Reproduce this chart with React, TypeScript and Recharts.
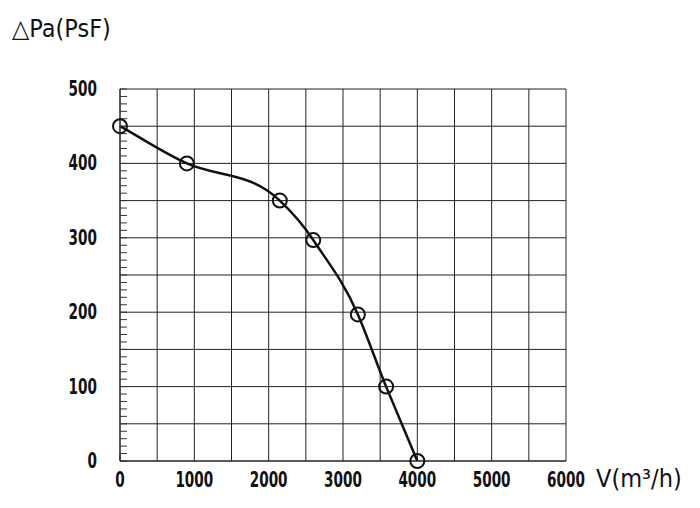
import { LineChart, Line, XAxis, YAxis, CartesianGrid } from 'recharts';

// fan curve: static pressure vs air flow
const flow = [0, 900, 2150, 2600, 3200, 3580, 4000];
const pressure = [450, 400, 350, 297, 197, 100, 0];

const xTicks = [0, 500, 1000, 1500, 2000, 2500, 3000, 3500, 4000, 4500, 5000, 5500, 6000];
const yTicks = [0, 50, 100, 150, 200, 250, 300, 350, 400, 450, 500];
const xMinorStep = 100;
const yMinorStep = 10;

const xMinor = Array.from({ length: 6000 / xMinorStep + 1 }, (_, i) => i * xMinorStep);
const yMinor = Array.from({ length: 500 / yMinorStep + 1 }, (_, i) => i * yMinorStep);

const data = flow.map((v, i) => ({ flow: v, pressure: pressure[i] }));

const FONT = '"DejaVu Sans Condensed", "DejaVu Sans", sans-serif';
const INK = '#111';

// cubic hermite through the points, tangent leaning towards the next segment
// (the original curve bends late, monotone gives an S between 900 and 2150)
const leanCurve = (context: any) => {
    let pts: number[][] = [];
    return {
        areaStart() {},
        areaEnd() {},
        lineStart() {
            pts = [];
        },
        point(x: number, y: number) {
            pts.push([+x, +y]);
        },
        lineEnd() {
            const n = pts.length;
            if (!n) return;
            context.moveTo(pts[0][0], pts[0][1]);
            if (n === 1) return;
            const s: number[] = [];
            for (let i = 0; i < n - 1; i++) {
                s.push((pts[i + 1][1] - pts[i][1]) / (pts[i + 1][0] - pts[i][0]));
            }
            const m = pts.map((_, i) => (i === 0 ? s[0] : i === n - 1 ? s[n - 2] : 0.7 * s[i] + 0.3 * s[i - 1]));
            for (let i = 0; i < n - 1; i++) {
                const [x0, y0] = pts[i];
                const [x1, y1] = pts[i + 1];
                const d = (x1 - x0) / 3;
                context.bezierCurveTo(x0 + d, y0 + m[i] * d, x1 - d, y1 - m[i + 1] * d, x1, y1);
            }
        },
    };
};

// narrow bold digits, squeezed horizontally like the original drawing
const NarrowTick = (props: any) => {
    const { x, y, payload, textAnchor, step } = props;
    const v = payload.value;
    if (v % step !== 0) return null;
    const vertical = textAnchor === 'end';
    return (
        <g transform={`translate(${x},${y})`}>
            <text
                transform="scale(0.72,1)"
                textAnchor={textAnchor}
                dy={vertical ? '0.33em' : '0.71em'}
                fontSize={21}
                fontWeight="bold"
                fontFamily={FONT}
                fill={INK}
            >
                {v}
            </text>
        </g>
    );
};

export default function App() {
    return (
        <div style={{ position: 'absolute', left: 0, top: 0, width: 700, height: 508, background: '#fff', fontFamily: FONT }}>
            <LineChart
                width={700}
                height={508}
                data={data}
                margin={{ top: 89, right: 134, bottom: 17, left: 60 }}
            >
                <CartesianGrid stroke="#222" strokeWidth={1} />
                <XAxis
                    dataKey="flow"
                    type="number"
                    domain={[0, 6000]}
                    ticks={xTicks}
                    interval={0}
                    tickSize={0}
                    tickMargin={11}
                    height={30}
                    axisLine={{ stroke: '#222' }}
                    tick={(p: any) => <NarrowTick {...p} step={1000} />}
                />
                <XAxis
                    xAxisId="minorX"
                    type="number"
                    domain={[0, 6000]}
                    allowDataOverflow
                    ticks={xMinor}
                    interval={0}
                    mirror
                    height={1}
                    tickSize={7}
                    axisLine={false}
                    tickLine={{ stroke: '#333' }}
                    tickFormatter={() => ''}
                />
                <YAxis
                    type="number"
                    domain={[0, 500]}
                    ticks={yTicks}
                    interval={0}
                    tickSize={0}
                    tickMargin={23}
                    width={60}
                    axisLine={{ stroke: '#222' }}
                    tick={(p: any) => <NarrowTick {...p} step={100} />}
                />
                <YAxis
                    yAxisId="minorY"
                    type="number"
                    domain={[0, 500]}
                    allowDataOverflow
                    ticks={yMinor}
                    interval={0}
                    mirror
                    width={1}
                    tickSize={7}
                    axisLine={false}
                    tickLine={{ stroke: '#333' }}
                    tickFormatter={() => ''}
                />
                <Line
                    type={leanCurve as any}
                    dataKey="pressure"
                    stroke={INK}
                    strokeWidth={2.5}
                    dot={{ r: 7, stroke: INK, strokeWidth: 2, fill: 'none' }}
                    isAnimationActive={false}
                />
            </LineChart>
            <div style={{ position: 'absolute', left: 12, top: 15.5, fontSize: 25, lineHeight: '25px', color: INK, whiteSpace: 'nowrap' }}>
                △Pa(PsF)
            </div>
            <div style={{ position: 'absolute', left: 596, top: 465.5, fontSize: 25, lineHeight: '25px', color: INK, whiteSpace: 'nowrap' }}>
                V(m³/h)
            </div>
        </div>
    );
}
